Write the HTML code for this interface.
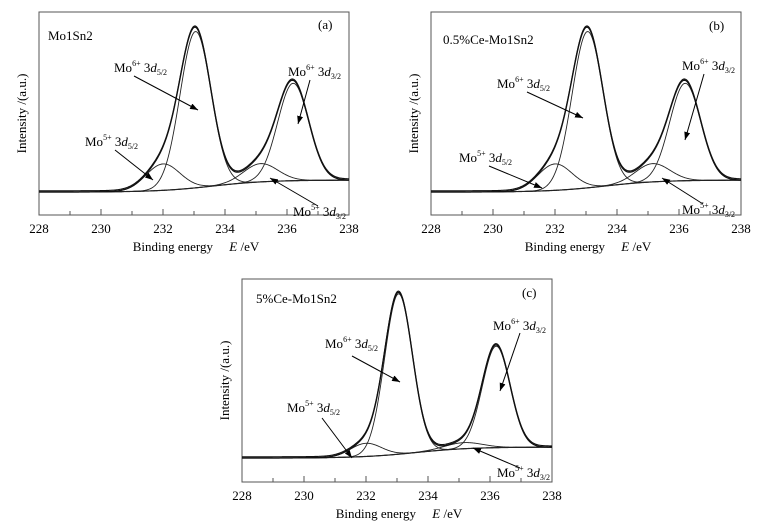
<!DOCTYPE html>
<html><head><meta charset="utf-8"><style>
body{margin:0;background:#fff}
svg{display:block;font-family:"Liberation Serif",serif}
</style></head><body>
<svg id="fig" width="768" height="528" viewBox="0 0 768 528" xmlns="http://www.w3.org/2000/svg">
<defs><marker id="ah" markerWidth="8" markerHeight="6" refX="8" refY="3" orient="auto" markerUnits="userSpaceOnUse"><path d="M0,0 L8,3 L0,6 Z" fill="#000"/></marker></defs>
</svg>
<script>
// ---- data ----
const xTicks = [228,230,232,234,236,238];
const panelIds = ['a','b','c'];
const panelTitles = ['Mo1Sn2','0.5%Ce-Mo1Sn2','5%Ce-Mo1Sn2'];
const peakCenters = [232.0, 233.05, 235.15, 236.2];
const heightsA = [13, 77, 9, 48];
const heightsB = [13, 77, 9, 48];
const heightsC = [6.5, 79, 3, 50];
const sigmasA = [0.55, 0.5, 0.55, 0.5];
const sigmasC = [0.5, 0.45, 0.6, 0.45];
const bgLeft = [11.3, 11.3, 11.8];
const bgRight = [17.2, 17.2, 17.2];
const bgStepCenter = 233.6;

const heights = [heightsA, heightsB, heightsC];
const sigmas = [sigmasA, sigmasA, sigmasC];
const origins = [[39,12],[431,12],[242,279]];
const W = 310, H = 203;
const svg = document.getElementById('fig');
const NS = 'http://www.w3.org/2000/svg';
function mk(tag, attrs, parent){const e=document.createElementNS(NS,tag);for(const k in attrs)e.setAttribute(k,attrs[k]);(parent||svg).appendChild(e);return e;}

function bgAt(p,x){return bgLeft[p]+(bgRight[p]-bgLeft[p])/(1+Math.exp(-(x-bgStepCenter)/0.9));}
function gauss(h,c,s,x){return h*Math.exp(-0.5*((x-c)/s)**2);}

const labelPos = [
 {m65:[114,72],a65:[[134,76],[198,110]], m63:[288,76],a63:[[310,80],[298,124]], m55:[85,146],a55:[[115,150],[153,180]], m53:[293,216],a53:[[318,206],[270,178]], t:[48,40], id:[318,29]},
 {m65:[497,88],a65:[[527,92],[583,118]], m63:[682,70],a63:[[704,74],[685,140]], m55:[459,162],a55:[[489,166],[542,188]], m53:[682,214],a53:[[703,204],[662,178]], t:[443,44], id:[709,30]},
 {m65:[325,348],a65:[[352,356],[400,382]], m63:[493,330],a63:[[520,333],[500,391]], m55:[287,412],a55:[[322,418],[352,458]], m53:[497,477],a53:[[520,468],[473,448]], t:[256,303], id:[522,297]}
];

function label(g,x,y,ox,sub,name){
  const t=mk('text',{x:x,y:y,'font-size':13},g);
  
  
  t.innerHTML='Mo<tspan dy="-6" font-size="8">'+ox+'+</tspan><tspan dy="6"> 3</tspan><tspan font-style="italic">d</tspan><tspan dy="3" font-size="8">'+sub+'</tspan>';
}

panelIds.forEach((pid,p)=>{
  const [ox,oy]=origins[p];
  const g=mk('g',{});
  
  
  const sx=v=>ox+(v-228)/10*W;
  const sy=v=>oy+H-v/100*H;
  const frame=mk('rect',{x:ox,y:oy,width:W,height:H,fill:'none',stroke:'#555','stroke-width':1},g);
  
  
  for(let v=228;v<=238;v++){
    const len=(v%2===0)?6:4;
    const tk=mk('line',{x1:sx(v),x2:sx(v),y1:oy+H,y2:oy+H-len,stroke:'#555'},g);
    
    
  }
  xTicks.forEach(v=>{
    const t=mk('text',{x:sx(v),y:oy+H+18,'font-size':13,'text-anchor':'middle'},g);
    t.textContent=v;
    
    
  });
  const xt=mk('text',{x:ox+W/2+2,y:oy+H+36,'font-size':13,'text-anchor':'middle'},g);
  xt.innerHTML='Binding energy&#160;&#160;&#160;&#160;&#160;<tspan font-style="italic">E</tspan> /eV';
  
  
  const yt=mk('text',{x:0,y:0,'font-size':13,'text-anchor':'middle',transform:'translate('+(ox-13)+','+(oy+H/2)+') rotate(-90)'},g);
  yt.textContent='Intensity /(a.u.)';
  
  

  // curves
  const N=400;
  const bgPts=[],envPts=[],envPts2=[];const comps=peakCenters.map(()=>[]);
  for(let i=0;i<=N;i++){
    const x=228+10*i/N;const b=bgAt(p,x);
    bgPts.push(sx(x)+','+sy(b));
    let s=b;
    peakCenters.forEach((c,k)=>{const gv=gauss(heights[p][k],c,sigmas[p][k],x);s+=gv;comps[k].push(sx(x)+','+sy(b+gv));});
    envPts.push(sx(x)+','+sy(s));
    envPts2.push(sx(x)+','+sy(s+0.6));
  }
  const bl=mk('polyline',{points:bgPts.join(' '),fill:'none',stroke:'#222','stroke-width':1.2},g);
  
  
  comps.forEach((pts,k)=>{
    const l=mk('polyline',{points:pts.join(' '),fill:'none',stroke:'#222','stroke-width':0.9},g);
    
    
  });
  const ev=mk('polyline',{points:envPts.join(' '),fill:'none',stroke:'#111','stroke-width':1.3},g);
  
  
  const ex=mk('polyline',{points:envPts2.join(' '),fill:'none',stroke:'#111','stroke-width':1.1},g);
  
  

  const L=labelPos[p];
  const tt=mk('text',{x:L.t[0],y:L.t[1],'font-size':13},g);
  tt.textContent=panelTitles[p];
  
  
  const pl=mk('text',{x:L.id[0],y:L.id[1],'font-size':13},g);
  pl.textContent='('+pid+')';
  
  
  label(g,L.m65[0],L.m65[1],6,'5/2','label-mo6-3d52');
  label(g,L.m63[0],L.m63[1],6,'3/2','label-mo6-3d32');
  label(g,L.m55[0],L.m55[1],5,'5/2','label-mo5-3d52');
  label(g,L.m53[0],L.m53[1],5,'3/2','label-mo5-3d32');
  [L.a65,L.a63,L.a55,L.a53].forEach(a=>{
    const ar=mk('line',{x1:a[0][0],y1:a[0][1],x2:a[1][0],y2:a[1][1],stroke:'#000','stroke-width':1,'marker-end':'url(#ah)'},g);
    
    
  });
});
</script>
</body></html>
